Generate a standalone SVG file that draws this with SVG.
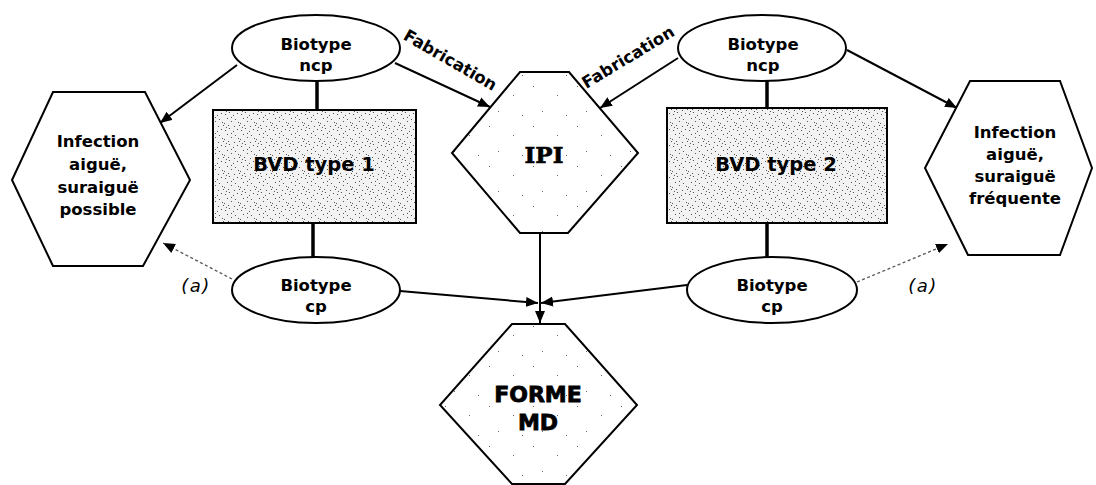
<svg xmlns="http://www.w3.org/2000/svg" width="1096" height="485" viewBox="0 0 1096 485">
<defs>
<style>
.ln{stroke:#000;stroke-width:2;fill:none}
.thick{stroke:#000;stroke-width:3.5;fill:none}
.dash{stroke:#555;stroke-width:1.3;stroke-dasharray:3 2.5;fill:none}
.shape{stroke:#000;stroke-width:2}
.white{fill:#fff}
.stip{fill:url(#dense)}
.sparse{fill:url(#sparse)}
text{font-family:"DejaVu Sans",Verdana,sans-serif;font-weight:bold;fill:#000;text-anchor:middle}
.t{font-size:16.5px}
.big{font-size:19.5px}
.fab{font-size:16.5px}
.ser{font-family:"DejaVu Serif","Liberation Serif",serif;font-size:23px;stroke:#000;stroke-width:0.6}
.forme{font-size:22px;stroke:#000;stroke-width:0.8}
.a{font-weight:normal;font-style:italic;font-size:18px;letter-spacing:1.5px}
</style>
<pattern id="dense" width="16" height="16" patternUnits="userSpaceOnUse">
<rect width="16" height="16" fill="#f2f2f2"/>
<g fill="#555">
<rect x="1" y="2" width="1" height="1"/><rect x="5" y="0" width="1" height="1"/>
<rect x="9" y="3" width="1" height="1"/><rect x="13" y="1" width="1" height="1"/>
<rect x="3" y="6" width="1" height="1"/><rect x="11" y="7" width="1" height="1"/>
<rect x="7" y="9" width="1" height="1"/><rect x="0" y="11" width="1" height="1"/>
<rect x="14" y="10" width="1" height="1"/><rect x="4" y="13" width="1" height="1"/>
<rect x="10" y="14" width="1" height="1"/><rect x="7" y="5" width="1" height="1"/>
<rect x="15" y="13" width="1" height="1"/><rect x="2" y="15" width="1" height="1"/>
</g>
</pattern>
<pattern id="sparse" width="44" height="40" patternUnits="userSpaceOnUse">
<rect width="44" height="40" fill="#fff"/>
<g fill="#666">
<rect x="5" y="6" width="1" height="1"/><rect x="29" y="15" width="1" height="1"/>
<rect x="14" y="31" width="1" height="1"/><rect x="38" y="35" width="1" height="1"/>
</g>
</pattern>
<marker id="ah" markerUnits="userSpaceOnUse" markerWidth="13" markerHeight="11" refX="12" refY="5" orient="auto" viewBox="0 0 13 10">
<path d="M0,0 L12,5 L0,10 z" fill="#000"/>
</marker>
</defs>
<rect width="1096" height="485" fill="#fff"/>

<g id="connectors">
<line class="ln" x1="237" y1="65" x2="160" y2="123" marker-end="url(#ah)"/>
<line class="ln" x1="395" y1="63" x2="490" y2="107" marker-end="url(#ah)"/>
<line class="ln" x1="678" y1="58" x2="600" y2="108" marker-end="url(#ah)"/>
<line class="ln" x1="847" y1="50" x2="957" y2="108" marker-end="url(#ah)"/>
<line class="thick" x1="317" y1="81" x2="317" y2="110"/>
<line class="thick" x1="313" y1="223" x2="313" y2="257"/>
<line class="thick" x1="767" y1="81" x2="767" y2="108"/>
<line class="thick" x1="767" y1="223" x2="767" y2="257"/>
<line class="dash" x1="232" y1="279" x2="163" y2="243" marker-end="url(#ah)"/>
<line class="dash" x1="857" y1="282" x2="948" y2="244" marker-end="url(#ah)"/>
<line class="ln" x1="400" y1="291" x2="538" y2="303" marker-end="url(#ah)"/>
<line class="ln" x1="687" y1="285" x2="541" y2="303" marker-end="url(#ah)"/>
<line class="ln" x1="540" y1="233" x2="540" y2="323" marker-end="url(#ah)"/>
<text class="fab" transform="translate(447.5,65) rotate(30)">Fabrication</text>
<text class="fab" transform="translate(631,62) rotate(-31)">Fabrication</text>
<text class="a" x="196" y="292">(a)</text>
<text class="a" x="923" y="292">(a)</text>
</g>

<g id="ncp1">
<ellipse class="shape white" cx="316" cy="48" rx="84" ry="33"/>
<text class="t" x="316" y="50">Biotype</text>
<text class="t" x="316" y="71">ncp</text>
</g>

<g id="hexL">
<polygon class="shape white" points="53,92 145,92 190,180 143,266 53,266 12,180"/>
<text class="t" x="98" y="147">Infection</text>
<text class="t" x="98" y="170">aiguë,</text>
<text class="t" x="98" y="193">suraiguë</text>
<text class="t" x="98" y="215">possible</text>
</g>

<g id="bvd1">
<rect class="shape stip" x="213" y="110" width="203" height="113"/>
<text class="big" x="314" y="171">BVD type 1</text>
</g>

<g id="ipi">
<polygon class="shape sparse" points="520,72 569,72 638,153 568,233 520,233 452,153"/>
<text class="ser" x="544" y="163">IPI</text>
</g>

<g id="ncp2">
<ellipse class="shape white" cx="762" cy="48" rx="84" ry="33"/>
<text class="t" x="763" y="50">Biotype</text>
<text class="t" x="763" y="71">ncp</text>
</g>

<g id="bvd2">
<rect class="shape stip" x="667" y="108" width="220" height="115"/>
<text class="big" x="776" y="171">BVD type 2</text>
</g>

<g id="hexR">
<polygon class="shape white" points="970,81 1060,81 1092,168 1060,255 968,255 925,168"/>
<text class="t" x="1015" y="138">Infection</text>
<text class="t" x="1015" y="160">aiguë,</text>
<text class="t" x="1015" y="182">suraiguë</text>
<text class="t" x="1015" y="204">fréquente</text>
</g>

<g id="cp1">
<ellipse class="shape white" cx="316" cy="290" rx="84" ry="33"/>
<text class="t" x="316" y="291">Biotype</text>
<text class="t" x="316" y="312">cp</text>
</g>

<g id="cp2">
<ellipse class="shape white" cx="772" cy="290" rx="85" ry="33"/>
<text class="t" x="772" y="291">Biotype</text>
<text class="t" x="772" y="312">cp</text>
</g>

<g id="forme">
<polygon class="shape sparse" points="512,324 565,324 637,405 565,484 512,484 440,405"/>
<text class="forme" x="538" y="402">FORME</text>
<text class="forme" x="538" y="430">MD</text>
</g>
</svg>
